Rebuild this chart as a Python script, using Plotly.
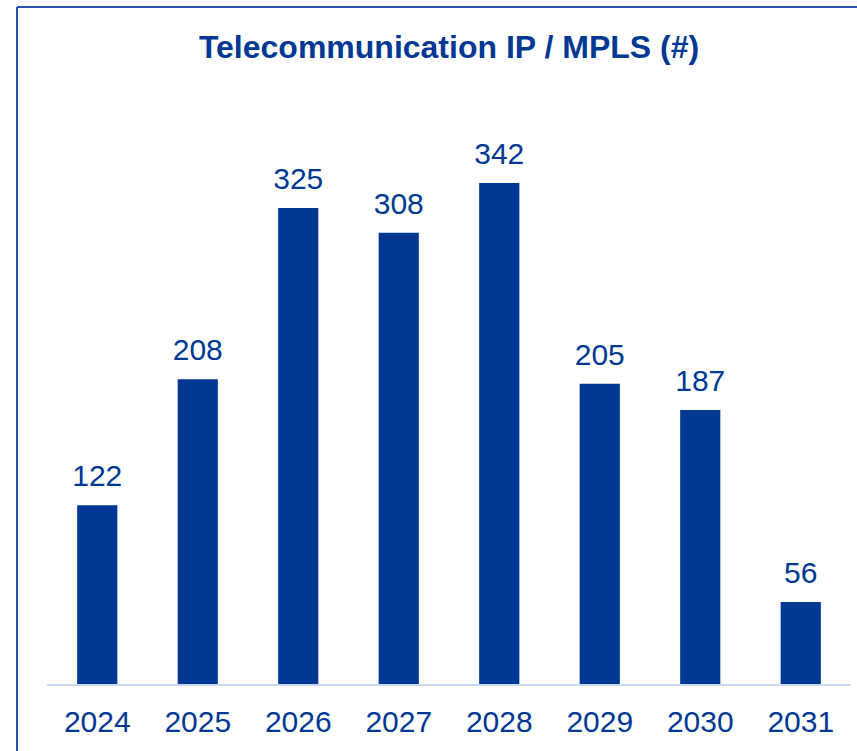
import plotly.graph_objects as go

years = ["2024", "2025", "2026", "2027", "2028", "2029", "2030", "2031"]
values = [122, 208, 325, 308, 342, 205, 187, 56]
title_text = "Telecommunication IP / MPLS (#)"

BLUE = "#003894"
FONT = "Liberation Sans, Arial, sans-serif"

fig = go.Figure()
fig.add_trace(go.Bar(
    x=years, y=values, marker=dict(color=BLUE, line=dict(width=0)),
    hoverinfo="skip",
))
# value labels, lifted above bars by an invisible marker
fig.add_trace(go.Scatter(
    x=years, y=values, mode="markers+text",
    text=[str(v) for v in values], textposition="top center",
    marker=dict(size=17, opacity=0),
    textfont=dict(family=FONT, size=30, color=BLUE),
    hoverinfo="skip", cliponaxis=False,
))

# frame: left and top edges
fig.add_shape(type="line", xref="paper", yref="paper",
              x0=-(47 - 17) / 804, x1=1.05, y0=(684 - 7) / 586, y1=(684 - 7) / 586,
              line=dict(color="#2a52a8", width=2))
fig.add_shape(type="line", xref="paper", yref="paper",
              x0=-(47 - 17) / 804, x1=-(47 - 17) / 804, y0=-0.2, y1=(684 - 7) / 586,
              line=dict(color="#2a52a8", width=2))

fig.update_layout(
    width=857, height=751,
    margin=dict(l=47, r=6, t=98, b=67, autoexpand=False),
    paper_bgcolor="white", plot_bgcolor="white",
    showlegend=False,
    title=dict(text="<b>" + title_text + "</b>", x=0.5, xref="paper",
               y=1 - 47 / 751, yanchor="middle",
               font=dict(family=FONT, size=32, color=BLUE)),
    xaxis=dict(type="category", range=[-0.5, 7.5], showgrid=False, showline=True,
               linecolor="#c9d9f5", linewidth=2, ticklabelstandoff=10,
               ticks="", tickfont=dict(family=FONT, size=30, color=BLUE)),
    yaxis=dict(range=[0, 400], visible=False, showgrid=False, zeroline=False),
    bargap=0.6,
)

fig.write_html("out.html", config={"displayModeBar": False},
               post_script="document.body.style.margin='0px';")
